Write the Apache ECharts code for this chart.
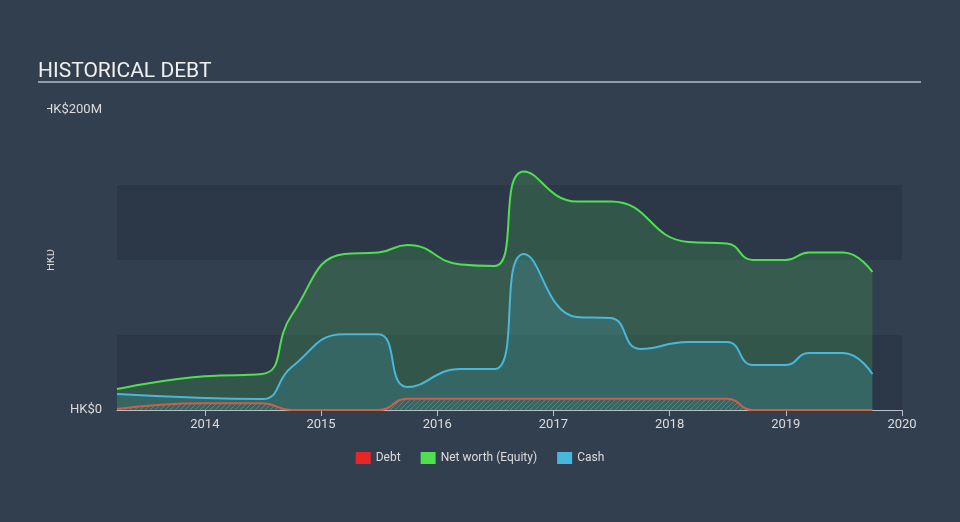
<!DOCTYPE html>
<html>
<head>
<meta charset="utf-8">
<script src="https://cdn.jsdelivr.net/npm/echarts@6/dist/echarts.min.js"></script>
<style>
html,body{margin:0;padding:0;background:#323f4f;}
#chart{width:960px;height:522px;}
</style>
</head>
<body>
<div id="chart"></div>
<script>
// ---- data (values in HK$ millions) ----
const equityDates = ['2013-03-31','2013-12-31','2014-06-30','2014-09-30','2015-03-15','2015-06-30','2015-09-30','2016-03-15','2016-06-30','2016-09-30','2017-03-15','2017-06-30','2018-03-01','2018-06-30','2018-09-20','2018-12-31','2019-03-15','2019-06-30','2019-09-30'];
const equityValues = [14,22.5,24,63,104,105,110,97,96,159,139,139,112,111,100,100,105,105,92];

const cashDates = ['2013-03-31','2013-12-31','2014-06-30','2014-09-30','2015-03-15','2015-06-30','2015-09-30','2016-03-15','2016-06-30','2016-09-30','2017-03-15','2017-06-30','2017-09-30','2018-03-01','2018-06-30','2018-09-20','2018-12-31','2019-03-15','2019-06-30','2019-09-30'];
const cashValues = [10.7,8,7.3,28.5,50.5,50.5,15.3,27.3,27.3,104,62,61.3,40.7,45.3,45.3,30,30,38,38,24];

const debtDates = ['2013-03-31','2013-12-31','2014-06-30','2014-09-30','2015-06-30','2015-09-30','2018-06-30','2018-09-20','2019-09-30'];
const debtValues = [0.7,4.5,4.5,0,0,7.5,7.5,0,0];

const yearTicks = [2014,2015,2016,2017,2018,2019,2020];
const seriesNames = ['Debt','Net worth (Equity)','Cash'];

function toYear(s){
  const d = new Date(s + 'T00:00:00Z');
  const y = d.getUTCFullYear();
  const start = Date.UTC(y,0,1), end = Date.UTC(y+1,0,1);
  return y + (d.getTime()-start)/(end-start);
}
function pairs(dates, vals){ return dates.map((d,i)=>[toYear(d), vals[i]]); }

// hatch pattern for debt area
const pc = document.createElement('canvas');
pc.width = 5; pc.height = 5;
const px = pc.getContext('2d');
px.strokeStyle = 'rgba(170,170,160,0.55)';
px.lineWidth = 1;
px.beginPath();
px.moveTo(0,5); px.lineTo(5,0);
px.moveTo(-1,1); px.lineTo(1,-1);
px.moveTo(4,6); px.lineTo(6,4);
px.stroke();

const chart = echarts.init(document.getElementById('chart'), null, {renderer:'canvas'});
const BG = '#323f4f';
const option = {
  backgroundColor: BG,
  animation: false,
  textStyle: {fontFamily: 'Roboto'},
  title: {
    text: 'HISTORICAL DEBT', left: 33, top: 56,
    textStyle: {color: '#f0f0f0', fontSize: 21, fontWeight: 'normal', fontFamily: 'Roboto'}
  },
  legend: {
    bottom: 53, left: 'center',
    itemWidth: 15, itemHeight: 12, itemGap: 20,
    icon: 'rect',
    textStyle: {color: '#dcdcdc', fontSize: 12},
    data: [
      {name: seriesNames[0], itemStyle: {color: '#e8262a'}},
      {name: seriesNames[1], itemStyle: {color: '#4fe04f'}},
      {name: seriesNames[2], itemStyle: {color: '#47b8dc'}}
    ]
  },
  grid: {left: 117, right: 58, top: 110, bottom: 112},
  xAxis: {
    type: 'value', min: toYear('2013-03-31'), max: 2020,
    axisLine: {show: true, lineStyle: {color: '#b8bec6', width: 1}},
    axisTick: {show: true, customValues: yearTicks, length: 6, lineStyle: {color: '#b8bec6'}},
    axisLabel: {customValues: yearTicks, color: '#dcdcdc', fontSize: 13, margin: 8, formatter: v => String(Math.round(v))},
    splitLine: {show: false}
  },
  yAxis: {
    type: 'value', min: 0, max: 200, interval: 50,
    axisLine: {show: false}, axisTick: {show: false},
    axisLabel: {color: '#dcdcdc', fontSize: 13, margin: 15,
      formatter: v => v === 0 ? 'HK$0' : (v === 200 ? 'HK$200M' : '')},
    splitLine: {show: false},
    splitArea: {show: true, areaStyle: {color: ['rgba(20,30,45,0.2)', 'rgba(0,0,0,0)']}}
  },
  graphic: [
    {type: 'line', shape: {x1: 38, y1: 82, x2: 921, y2: 82}, style: {stroke: '#b5bcc6', lineWidth: 1.5}, z: 10},
    {type: 'text', x: 51, y: 260, rotation: Math.PI / 2,
      style: {text: 'HKD', fill: '#dcdcdc', font: '11px Roboto', align: 'center', verticalAlign: 'middle'}, z: 50},
    {type: 'rect', shape: {x: 0, y: 95, width: 47, height: 320}, style: {fill: BG}, z: 100}
  ],
  series: [
    {
      name: seriesNames[1], type: 'line', data: pairs(equityDates, equityValues),
      smooth: 0.5, showSymbol: false,
      itemStyle: {color: '#4fe04f'},
      lineStyle: {color: '#4fe04f', width: 2},
      areaStyle: {color: 'rgba(79,224,79,0.25)'}, z: 2
    },
    {
      name: seriesNames[2], type: 'line', data: pairs(cashDates, cashValues),
      smooth: 0.5, showSymbol: false,
      itemStyle: {color: '#47b8dc'},
      lineStyle: {color: '#47b8dc', width: 2},
      areaStyle: {color: 'rgba(71,184,220,0.25)'}, z: 3
    },
    {
      name: seriesNames[0], type: 'line', data: pairs(debtDates, debtValues),
      smooth: 0.5, showSymbol: false,
      itemStyle: {color: '#e8262a'},
      lineStyle: {color: '#cc5e4a', width: 2},
      areaStyle: {color: {image: pc, repeat: 'repeat'}}, z: 4
    }
  ]
};
chart.setOption(option);
</script>
</body>
</html>
